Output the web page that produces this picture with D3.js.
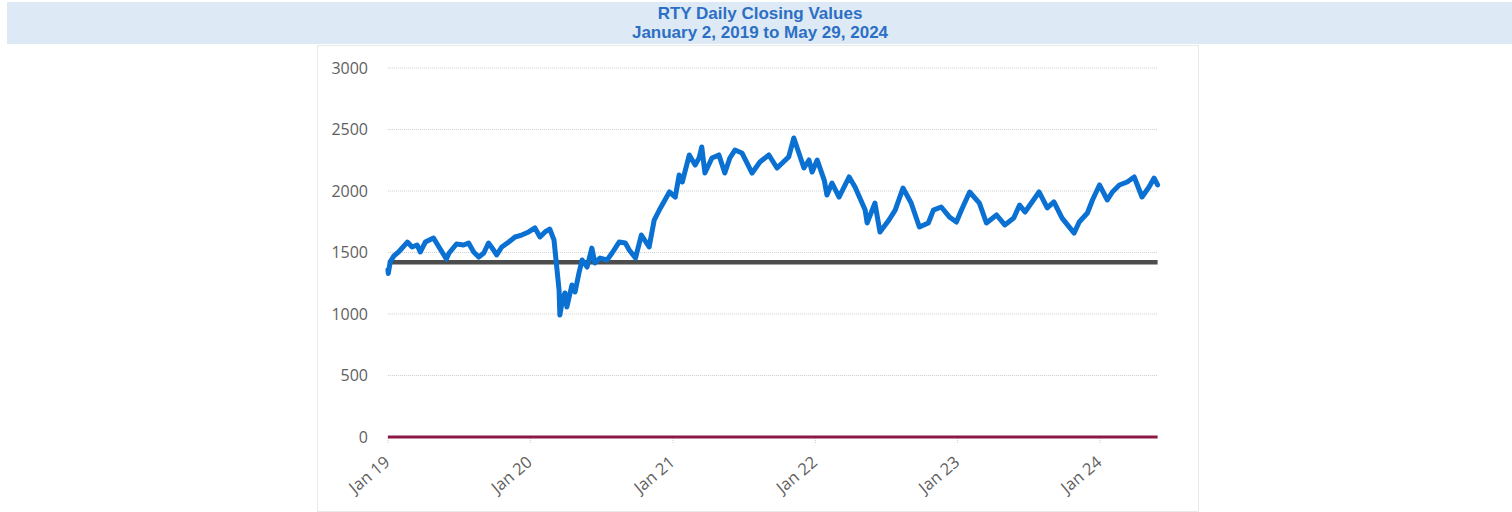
<!DOCTYPE html>
<html>
<head>
<meta charset="utf-8">
<script src="https://cdn.jsdelivr.net/npm/d3@7"></script>
<style>
  html, body { margin: 0; padding: 0; background: #fff; }
  #chart { width: 1512px; height: 512px; }
</style>
</head>
<body>
<div id="chart"></div>
<script>
// title lines
var titleLines = ["RTY Daily Closing Values", "January 2, 2019 to May 29, 2024"];

// closing values (date, close)
var closeDates = [
  "2019-01-02", "2019-01-03", "2019-01-08", "2019-01-17", "2019-01-31", "2019-02-21",
  "2019-03-05", "2019-03-18", "2019-03-26", "2019-04-08", "2019-04-29", "2019-05-13",
  "2019-06-01", "2019-06-08", "2019-06-27", "2019-07-15", "2019-07-28", "2019-08-10",
  "2019-08-23", "2019-09-05", "2019-09-17", "2019-09-30", "2019-10-08", "2019-10-21",
  "2019-11-08", "2019-11-24", "2019-12-11", "2019-12-29", "2020-01-14", "2020-01-27",
  "2020-02-09", "2020-02-21", "2020-03-03", "2020-03-10", "2020-03-16", "2020-03-18",
  "2020-03-25", "2020-03-31", "2020-04-05", "2020-04-18", "2020-04-26", "2020-05-06",
  "2020-05-14", "2020-05-27", "2020-06-08", "2020-06-16", "2020-06-29", "2020-07-17",
  "2020-07-30", "2020-08-17", "2020-09-02", "2020-09-12", "2020-09-28", "2020-10-13",
  "2020-11-02", "2020-11-15", "2020-12-01", "2020-12-24", "2021-01-08", "2021-01-18",
  "2021-01-26", "2021-02-13", "2021-02-28", "2021-03-10", "2021-03-17", "2021-03-25",
  "2021-04-12", "2021-04-30", "2021-05-15", "2021-05-28", "2021-06-10", "2021-06-28",
  "2021-07-24", "2021-08-13", "2021-09-05", "2021-09-26", "2021-10-26", "2021-11-08",
  "2021-12-04", "2021-12-17", "2021-12-25", "2022-01-07", "2022-01-25", "2022-02-01",
  "2022-02-14", "2022-03-04", "2022-03-30", "2022-04-14", "2022-05-10", "2022-05-15",
  "2022-06-04", "2022-06-17", "2022-07-10", "2022-07-26", "2022-08-15", "2022-09-05",
  "2022-09-26", "2022-10-19", "2022-11-01", "2022-11-21", "2022-12-12", "2022-12-30",
  "2023-01-12", "2023-02-02", "2023-02-27", "2023-03-17", "2023-04-12", "2023-05-03",
  "2023-05-26", "2023-06-10", "2023-06-24", "2023-07-30", "2023-08-20", "2023-09-06",
  "2023-09-27", "2023-10-28", "2023-11-10", "2023-12-01", "2023-12-14", "2024-01-01",
  "2024-01-21", "2024-02-03", "2024-02-21", "2024-03-12", "2024-03-30", "2024-04-19",
  "2024-05-07", "2024-05-20", "2024-05-29"
];
var closeValues = [
  1360, 1330, 1425, 1470, 1510, 1585,
  1545, 1561, 1504, 1585, 1618, 1545,
  1447, 1496, 1569, 1561, 1577, 1504,
  1463, 1496, 1577, 1520, 1480, 1545,
  1585, 1626, 1642, 1667, 1700, 1626,
  1667, 1691, 1602, 1382, 1195, 991,
  1120, 1171, 1057, 1236, 1179, 1333,
  1439, 1382, 1536, 1415, 1455, 1439,
  1496, 1585, 1577, 1520, 1455, 1642,
  1545, 1764, 1862, 1992, 1951, 2130,
  2073, 2293, 2211, 2268, 2358, 2146,
  2268, 2293, 2146, 2268, 2333, 2309,
  2146, 2236, 2293, 2187, 2277, 2431,
  2187, 2252, 2154, 2252, 2089, 1967,
  2065, 1951, 2114, 2032, 1845, 1740,
  1902, 1667, 1764, 1845, 2024, 1902,
  1707, 1740, 1845, 1870, 1789, 1748,
  1845, 1992, 1902, 1740, 1805, 1724,
  1780, 1886, 1829, 1992, 1862, 1911,
  1780, 1658, 1748, 1821, 1927, 2049,
  1927, 1992, 2049, 2073, 2114, 1951,
  2032, 2105, 2049
];

// reference levels
var refLevel = 1420;
var zeroLevel = 0;

// axis ticks
var yTicks = [0, 500, 1000, 1500, 2000, 2500, 3000];
var xTickDates = ["2019-01-01", "2020-01-01", "2021-01-01", "2022-01-01", "2023-01-01", "2024-01-01"];
var xTickLabels = ["Jan 19", "Jan 20", "Jan 21", "Jan 22", "Jan 23", "Jan 24"];

var parse = d3.timeParse("%Y-%m-%d");

var init = function (selector) {
    var root = d3.select(selector);
    var width = 1512, height = 512;
    var svg = root.append("svg")
        .attr("width", width)
        .attr("height", height)
        .attr("viewBox", "0 0 " + width + " " + height);

    // title band
    svg.append("rect")
        .attr("x", 7).attr("y", 2)
        .attr("width", width - 7).attr("height", 42)
        .attr("fill", "#dde9f4");
    svg.selectAll(".title")
        .data(titleLines)
        .enter()
        .append("text")
        .attr("class", "title")
        .attr("x", 760)
        .attr("y", function (d, i) { return 19 + i * 19; })
        .attr("text-anchor", "middle")
        .style("font-family", "'Liberation Sans', Arial, sans-serif")
        .style("font-weight", "bold")
        .style("font-size", "17px")
        .style("fill", "#2c6fc4")
        .text(function (d) { return d; });

    // chart box
    svg.append("rect")
        .attr("x", 317.5).attr("y", 45.5)
        .attr("width", 881).attr("height", 466)
        .attr("fill", "none")
        .attr("stroke", "#d2d2d2")
        .attr("stroke-dasharray", "1,1");

    var dates = closeDates.map(parse);
    var series = dates.map(function (d, i) { return { date: d, value: closeValues[i] }; });

    var x = d3.scaleTime()
        .domain([parse("2019-01-01"), parse("2024-05-30")])
        .range([387.5, 1158]);
    var y = d3.scaleLinear()
        .domain([0, 3000])
        .range([437, 68]);

    var x0 = x(dates[0]), x1 = x(dates[dates.length - 1]);

    // gridlines
    svg.selectAll(".grid")
        .data(yTicks)
        .enter()
        .append("line")
        .attr("class", "grid")
        .attr("x1", x0).attr("x2", x1)
        .attr("y1", function (d) { return y(d); })
        .attr("y2", function (d) { return y(d); })
        .attr("stroke", "#cdcdcd")
        .attr("stroke-width", 1)
        .attr("stroke-dasharray", "1,1");

    // y labels
    var yAxis = d3.axisLeft(y).tickValues(yTicks).tickFormat(d3.format("d")).tickSize(0).tickPadding(0);
    var gy = svg.append("g")
        .attr("transform", "translate(368,0)")
        .call(yAxis);
    gy.select(".domain").remove();
    gy.selectAll("text")
        .style("font-family", "'Open Sans', sans-serif")
        .style("font-size", "16px")
        .style("fill", "#5f5f5f");

    // x ticks and labels
    var xAxis = d3.axisBottom(x)
        .tickValues(xTickDates.map(parse))
        .tickFormat(function (d, i) { return xTickLabels[i]; })
        .tickSize(5)
        .tickPadding(0);
    var gx = svg.append("g")
        .attr("transform", "translate(0," + (y(0) + 1) + ")")
        .call(xAxis);
    gx.select(".domain").remove();
    gx.selectAll(".tick line")
        .attr("stroke", "#c9c9c9")
        .attr("stroke-dasharray", "1,1");
    gx.selectAll("text")
        .style("font-family", "'Open Sans', sans-serif")
        .style("font-size", "16.5px")
        .style("fill", "#5f5f5f")
        .attr("text-anchor", "end")
        .attr("x", 0)
        .attr("y", 0)
        .attr("dy", 0)
        .attr("transform", "translate(3,26) rotate(-40)");

    // reference line
    svg.append("line")
        .attr("x1", x0).attr("x2", x1)
        .attr("y1", y(refLevel)).attr("y2", y(refLevel))
        .attr("stroke", "#4d4d4d")
        .attr("stroke-width", 4.5);

    // zero line
    svg.append("line")
        .attr("x1", x0).attr("x2", x1)
        .attr("y1", y(zeroLevel)).attr("y2", y(zeroLevel))
        .attr("stroke", "#8c1846")
        .attr("stroke-width", 3);

    // closing values
    var line = d3.line()
        .x(function (d) { return x(d.date); })
        .y(function (d) { return y(d.value); });
    svg.append("path")
        .datum(series)
        .attr("d", line)
        .attr("fill", "none")
        .attr("stroke", "#0a70d2")
        .attr("stroke-width", 5)
        .attr("stroke-linejoin", "round")
        .attr("stroke-linecap", "round");
};
document.addEventListener('DOMContentLoaded', function () { return init("#chart"); }, false);
</script>
</body>
</html>
